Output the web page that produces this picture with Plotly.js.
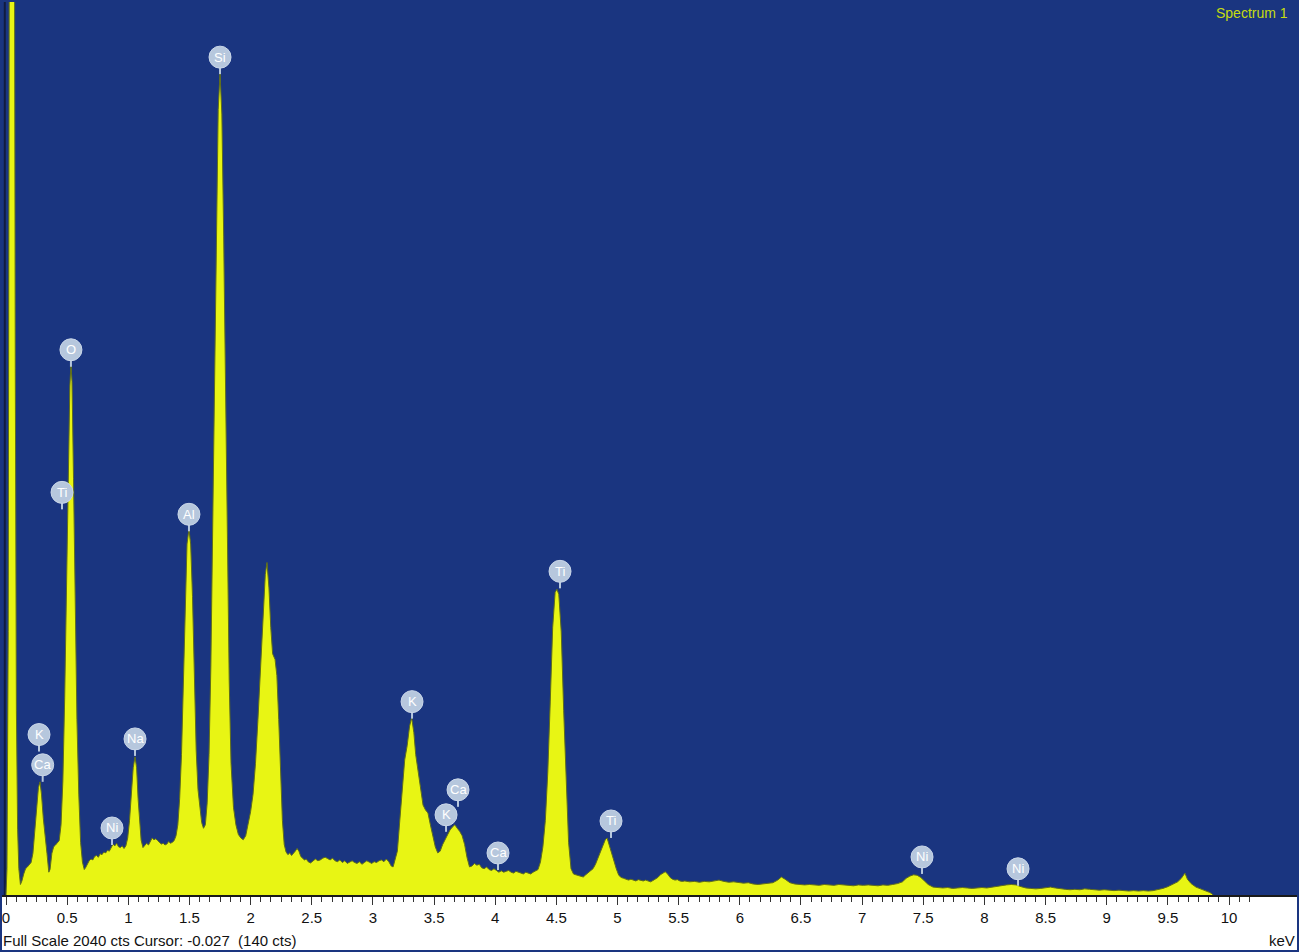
<!DOCTYPE html>
<html>
<head>
<meta charset="utf-8">
<script src="https://cdn.plot.ly/plotly-3.0.1.min.js"></script>
<style>html,body{margin:0;padding:0;background:#fff;}#chart{width:1299px;height:952px;}</style>
</head>
<body>
<div id="chart"></div>
<script>
// Spectrum (energy in keV, counts)
const energyKeV = [
0.000,0.008,0.018,0.028,0.038,0.050,0.060,0.068,0.076,0.085,0.095,0.105,0.118,
0.130,0.145,0.160,0.175,0.190,0.205,0.220,0.235,0.250,0.265,0.278,0.290,0.305,0.320,0.335,0.350,0.360,0.375,0.390,0.405,0.420,0.435,
0.450,0.465,0.480,0.495,0.510,0.522,0.531,0.540,0.552,0.565,0.580,0.595,0.610,0.625,0.640,0.650,
0.665,0.680,0.695,0.710,0.725,0.740,0.755,0.770,0.785,0.800,0.815,0.830,0.845,0.860,0.875,0.890,0.905,0.920,0.935,0.950,0.965,0.980,
0.995,1.010,1.025,1.040,1.055,1.068,1.080,1.092,1.105,1.120,1.135,1.150,1.165,1.180,1.195,1.210,1.225,1.240,1.255,1.270,1.285,1.300,1.315,1.330,1.345,1.360,1.375,1.390,
1.405,1.420,1.435,1.450,1.465,1.480,1.496,1.510,1.525,1.540,1.555,1.570,1.585,1.600,1.615,1.630,
1.645,1.660,1.675,1.690,1.705,1.720,1.735,1.750,1.765,1.780,1.795,1.810,1.825,1.840,1.860,1.880,1.900,1.920,1.940,1.960,
1.980,2.000,2.020,2.040,2.060,2.080,2.100,2.120,2.134,2.150,2.165,2.180,2.200,2.215,2.230,2.245,2.260,2.275,2.290,
2.305,2.320,2.335,2.350,2.365,2.380,2.395,2.410,2.425,2.440,2.455,2.470,2.490,2.510,2.530,2.550,2.570,2.590,2.610,2.630,2.650,2.670,2.690,2.710,2.730,2.750,2.770,2.790,2.810,2.830,2.850,2.870,2.890,2.910,2.930,2.950,2.970,2.990,3.010,3.030,3.050,3.070,3.090,3.110,3.130,3.150,3.165,
3.180,3.200,3.220,3.240,3.260,3.280,3.300,3.317,3.335,3.350,3.370,3.390,3.410,3.430,3.450,3.470,3.490,3.510,3.530,3.550,
3.570,3.590,3.610,3.630,3.650,3.670,3.690,3.710,3.730,3.750,3.770,3.790,3.810,3.830,3.850,3.870,3.890,3.910,3.930,3.950,3.970,3.990,4.010,4.030,4.050,4.070,4.090,4.110,4.130,4.150,4.170,4.190,4.210,4.230,4.250,4.270,4.290,4.310,4.330,4.350,
4.370,4.390,4.410,4.430,4.450,4.470,4.490,4.505,4.520,4.540,4.560,4.580,4.600,4.620,4.640,4.660,4.680,4.700,4.720,4.740,4.760,4.780,4.800,4.820,4.840,4.860,4.880,4.900,4.915,4.930,4.950,4.970,4.990,5.010,5.030,5.050,5.070,5.090,5.110,5.130,5.150,5.170,5.190,5.210,5.230,5.250,5.270,5.290,5.310,5.330,5.350,5.370,5.390,5.410,5.430,5.450,5.470,5.490,5.510,5.530,
5.55,5.59,5.63,5.67,5.71,5.75,5.79,5.83,5.87,5.91,5.95,5.99,6.03,6.07,6.11,6.15,6.19,6.23,6.27,6.31,6.34,6.37,6.41,6.45,6.49,6.53,6.57,6.61,6.65,6.69,6.73,6.77,6.81,6.85,6.89,6.93,6.97,7.01,7.05,7.09,7.13,7.17,7.21,7.25,7.29,7.33,7.36,7.39,7.42,7.45,7.48,7.51,7.54,7.58,7.62,7.66,7.70,7.74,7.78,7.82,7.86,7.90,7.94,7.98,8.02,8.06,8.10,8.14,8.18,8.22,8.26,8.30,8.34,8.38,8.42,8.46,8.50,8.54,8.58,8.62,8.66,8.70,8.74,8.78,8.82,8.86,8.90,8.94,8.98,9.02,9.06,9.10,9.14,9.18,9.22,9.26,9.30,9.34,9.38,9.42,9.46,9.50,9.54,9.58,9.61,9.64,9.66,9.69,9.73,9.77,9.81,9.84,9.86,9.87
];
const counts = [
0,60,600,2600,4200,4500,3800,2400,1200,420,150,60,24,
32,48,60,64,70,74,95,140,200,245,258,230,175,140,95,52,58,95,110,114,118,124,
160,260,450,720,980,1160,1210,1170,950,660,400,230,120,75,58,62,
70,78,82,80,88,90,86,94,92,98,96,102,100,108,116,112,118,110,108,112,106,112,
130,170,230,290,315,290,220,160,125,108,112,118,114,122,130,126,128,124,120,116,118,114,116,122,118,120,124,135,
160,220,320,480,660,800,834,800,680,480,330,240,195,165,152,160,
210,320,520,840,1200,1560,1790,1873,1780,1500,1120,760,490,300,200,160,138,130,126,135,
160,190,230,300,400,520,640,730,758,700,610,550,537,500,400,270,170,115,98,
92,96,90,94,100,106,100,88,84,80,82,76,73,78,82,78,80,84,86,83,80,84,78,76,80,74,78,72,75,78,74,72,76,70,74,78,75,72,76,74,78,80,76,82,76,66,64,
80,100,170,250,308,340,385,404,370,320,285,240,205,194,187,160,132,110,96,100,
115,126,138,148,155,160,152,145,135,115,85,64,66,72,68,70,62,60,64,58,56,60,56,52,55,52,54,56,52,50,54,52,50,48,52,50,48,52,56,58,
75,110,170,280,440,610,690,697,685,600,420,250,120,60,48,46,44,42,41,46,50,54,60,70,85,96,112,126,130,115,95,80,60,45,40,38,36,34,36,34,32,35,33,32,34,32,30,33,36,40,46,50,53,48,40,36,34,35,32,31,
32,30,31,29,31,30,32,34,31,29,30,28,27,28,25,24,25,26,28,34,41,36,28,25,24,23,24,23,22,24,23,22,24,23,22,21,23,22,23,22,21,23,22,24,26,30,38,43,46,45,40,32,24,18,17,16,17,15,16,17,16,15,16,17,16,18,20,21,23,24,23,19,16,15,14,15,16,18,16,14,13,12,13,12,14,13,12,11,12,11,10,11,10,9,10,9,10,9,10,12,15,19,24,30,38,50,36,26,18,14,10,6,3,0
];

// Peak labels: element, energy (keV) and counts at the tip of the label stem
const labelElements = ["K","Ca","O","Ti","Ni","Na","Al","Si","K","Ca","K","Ca","Ti","Ti","Ni","Ni"];
const labelKeV      = [0.27,0.30,0.531,0.458,0.867,1.055,1.496,1.750,3.320,3.696,3.598,4.023,4.530,4.947,7.490,8.275];
const labelCounts   = [327,258,1204,879,114,317,829,1871,402,201,144,57,699,130,48,21];

// Axis tick labels
const majorTicks = [0,0.5,1,1.5,2,2.5,3,3.5,4,4.5,5,5.5,6,6.5,7,7.5,8,8.5,9,9.5,10];
const majorTickText = ["0","0.5","1","1.5","2","2.5","3","3.5","4","4.5","5","5.5","6","6.5","7","7.5","8","8.5","9","9.5","10"];

const BLUE = "#1a3580";
const YELLOW = "#e8f514";
const BADGE = "#b6c7dd";

const minorTicks = [];
for (let i = 0; i <= 122; i++) minorTicks.push(i / 12);

const trace = {
  x: energyKeV, y: counts, type: "scatter", mode: "lines",
  fill: "tozeroy", fillcolor: YELLOW,
  line: {color: "#5f6d1c", width: 1, shape: "linear"},
  hoverinfo: "skip"
};

const shapes = [];
const annotations = [];
for (let i = 0; i < labelElements.length; i++) {
  shapes.push({type: "line", xref: "x", yref: "y", xsizemode: "pixel", ysizemode: "pixel",
    xanchor: labelKeV[i], yanchor: labelCounts[i], x0: 0, x1: 0, y0: 0, y1: 8,
    line: {color: BADGE, width: 2}});
  shapes.push({type: "circle", xref: "x", yref: "y", xsizemode: "pixel", ysizemode: "pixel",
    xanchor: labelKeV[i], yanchor: labelCounts[i], x0: -11, x1: 11, y0: 6, y1: 28,
    fillcolor: BADGE, line: {color: "#c9d6e8", width: 1}});
  annotations.push({x: labelKeV[i], y: labelCounts[i], xref: "x", yref: "y", yshift: 17,
    text: labelElements[i], showarrow: false, xanchor: "center", yanchor: "middle",
    font: {family: "Liberation Sans, Arial, sans-serif", size: 13, color: "#ffffff"}});
}
// zero energy line
shapes.push({type: "line", xref: "x", yref: "paper", x0: -0.01, x1: -0.01, y0: 0, y1: 1,
  line: {color: "#101c40", width: 2}, layer: "below"});
// outer frame
shapes.push({type: "rect", xref: "paper", yref: "paper", x0: 0, x1: 1, y0: -57/895, y1: 1,
  line: {color: BLUE, width: 4}, fillcolor: "rgba(0,0,0,0)"});

annotations.push({xref: "paper", yref: "paper", x: 1, y: 1, xanchor: "right", yanchor: "top",
  xshift: -9, yshift: -3, text: "Spectrum 1", showarrow: false,
  font: {family: "Liberation Sans, Arial, sans-serif", size: 14, color: "#c6dc10"}});
annotations.push({xref: "paper", yref: "paper", x: 0, y: -45/895, xanchor: "left", yanchor: "middle",
  xshift: 1, text: "Full Scale 2040 cts Cursor: -0.027 \u00a0(140 cts)", showarrow: false,
  font: {family: "Liberation Sans, Arial, sans-serif", size: 15, color: "#111111"}});
annotations.push({xref: "paper", yref: "paper", x: 1, y: -45/895, xanchor: "right", yanchor: "middle",
  xshift: -2, text: "keV", showarrow: false,
  font: {family: "Liberation Sans, Arial, sans-serif", size: 15, color: "#111111"}});

const layout = {
  width: 1299, height: 952,
  margin: {l: 0, r: 0, t: 0, b: 57, pad: 0},
  paper_bgcolor: "#ffffff", plot_bgcolor: BLUE,
  showlegend: false,
  xaxis: {range: [-6/122.3, 1293/122.3], showgrid: false, zeroline: false,
    showline: true, linecolor: "#1a1a1a", linewidth: 2,
    ticks: "outside", ticklen: 8, tickwidth: 1, tickcolor: "#333",
    tickmode: "array", tickvals: majorTicks, ticktext: majorTickText,
    minor: {tickmode: "array", tickvals: minorTicks, ticks: "outside", ticklen: 5, tickcolor: "#333", showgrid: false},
    tickfont: {family: "Liberation Sans, Arial, sans-serif", size: 15, color: "#111"},
    fixedrange: true},
  yaxis: {range: [0, 2040], showgrid: false, zeroline: false, showticklabels: false,
    ticks: "", showline: false, fixedrange: true},
  shapes: shapes, annotations: annotations
};

Plotly.newPlot("chart", [trace], layout, {displayModeBar: false, staticPlot: true});
</script>
</body>
</html>
